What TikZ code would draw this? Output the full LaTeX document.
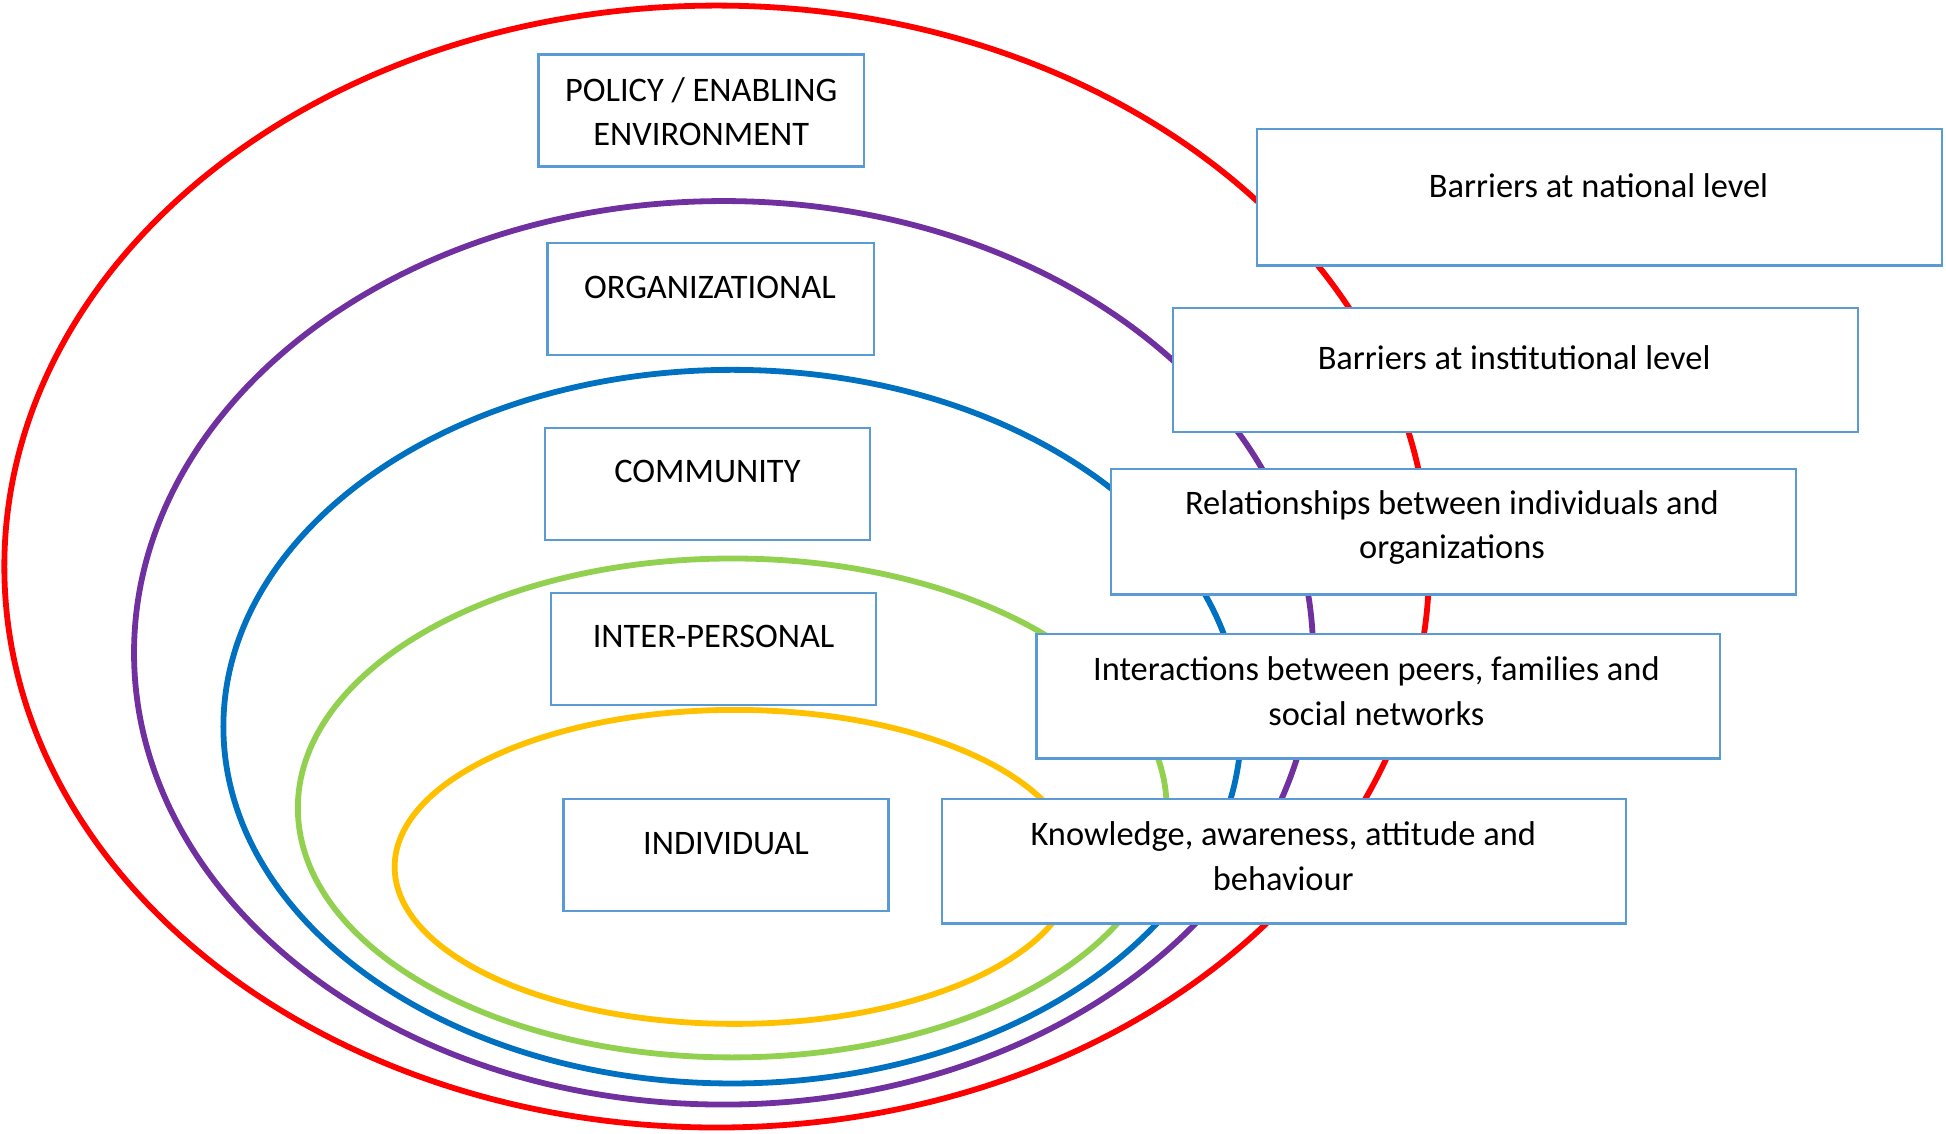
\documentclass[tikz,border=0pt]{standalone}
\usepackage{fontspec}
\setmainfont{Carlito}
\usetikzlibrary{fit}
\definecolor{boxblue}{HTML}{5B9BD5}
\definecolor{cRed}{HTML}{FF0000}
\definecolor{cPurple}{HTML}{7030A0}
\definecolor{cBlue}{HTML}{0070C0}
\definecolor{cGreen}{HTML}{92D050}
\definecolor{cYellow}{HTML}{FFC000}
\begin{document}
\begin{tikzpicture}[x=0.6205pt,y=-0.6205pt,
  ring/.style={line width=2.9pt},
  box/.style={draw=boxblue,line width=1.2pt,fill=white,inner sep=0pt,rectangle},
  lbl/.style={font=\fontsize{17.2pt}{22.3pt}\selectfont,align=center,inner sep=0pt,anchor=center}]
\useasboundingbox (0,0) rectangle (1568,913);
% rings
\draw[ring,cRed] (577.5,456.5) ellipse [x radius=574, y radius=452];
\draw[ring,cPurple] (583,526) ellipse [x radius=475, y radius=364];
\draw[ring,cBlue] (590,585.5) ellipse [x radius=410, y radius=287.5];
\draw[ring,cGreen] (590,651) ellipse [x radius=350, y radius=201];
\draw[ring,cYellow] (592,698.5) ellipse [x radius=274, y radius=126.5];
% left boxes
\node[box,fit={(434,44) (696,134)}] (pol) {};
\node[lbl] (polt) at (565,90) {POLICY / ENABLING\\ENVIRONMENT};
\node[box,fit={(441,196) (704,286)}] (org) {};
\node[lbl] (orgt) at (572,232) {ORGANIZATIONAL};
\node[box,fit={(439,345) (701,435)}] (com) {};
\node[lbl] (comt) at (570,380) {COMMUNITY};
\node[box,fit={(444,478) (706,568)}] (int) {};
\node[lbl] (intt) at (575,513) {INTER-PERSONAL};
\node[box,fit={(454,644) (716,734)}] (ind) {};
\node[lbl] (indt) at (585,680) {INDIVIDUAL};
% right boxes
\node[box,fit={(1013,104) (1565,214)}] (nat) {};
\node[lbl] (natt) at (1288,150) {Barriers at national level};
\node[box,fit={(945,248) (1497,348)}] (ins) {};
\node[lbl] (inst) at (1220,288) {Barriers at institutional level};
\node[box,fit={(895,378) (1447,479)}] (rel) {};
\node[lbl] (relt) at (1170,425) {Relationships between individuals and\\organizations};
\node[box,fit={(835,511) (1386,611)}] (itr) {};
\node[lbl] (itrt) at (1109,557) {Interactions between peers, families and\\social networks};
\node[box,fit={(759,644) (1310,744)}] (kno) {};
\node[lbl] (knot) at (1034,690) {Knowledge, awareness, attitude and\\behaviour};
\end{tikzpicture}
\end{document}
